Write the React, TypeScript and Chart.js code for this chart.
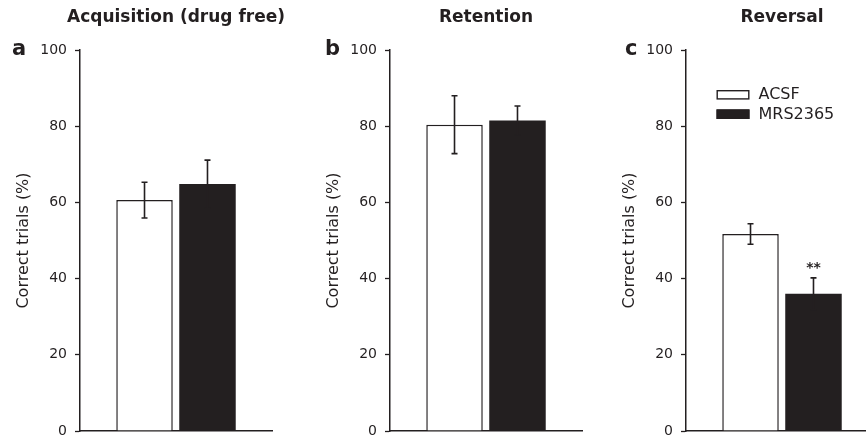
import { useEffect, useRef } from 'react';
import { Chart, registerables } from 'chart.js';

Chart.register(...registerables);

// ---- data ----
const groupLabels = ['ACSF', 'MRS2365'];
const panelTitles = ['Acquisition (drug free)', 'Retention', 'Reversal'];
const panelLetters = ['a', 'b', 'c'];
const acsfMeans = [60.6, 80.4, 51.7];
const acsfErrors = [4.7, 7.6, 2.7];
const mrsMeans = [64.8, 81.5, 36.0];
const mrsErrors = [6.3, 3.8, 4.2];
const significance = ['', '', '**'];
const yMin = 0;
const yMax = 100;
const yStep = 20;
const yAxisTitle = 'Correct trials (%)';

// ---- layout / style ----
const INK = '#231f20';
const FONT = '"DejaVu Sans", "Liberation Sans", Arial, sans-serif';
const panelAxisX = [80, 390, 686];
const letterX = [12, 15, 19];
const CANVAS_W = 290;
const CANVAS_H = 440;
const AXIS_OFFSET = 80;

function makePlugin(idx: number) {
  return {
    id: 'panelDecor' + idx,
    afterDatasetsDraw(chart: any) {
      const ctx = chart.ctx as CanvasRenderingContext2D;
      const y = chart.scales.y;
      ctx.save();
      const means = [acsfMeans[idx], mrsMeans[idx]];
      const errs = [acsfErrors[idx], mrsErrors[idx]];
      ctx.strokeStyle = INK;
      ctx.lineWidth = 1.6;
      for (let d = 0; d < 2; d++) {
        const el = chart.getDatasetMeta(d).data[0];
        const cx = el.x;
        const top = y.getPixelForValue(means[d] + errs[d]);
        const bot = y.getPixelForValue(means[d] - errs[d]);
        ctx.beginPath();
        ctx.moveTo(cx, top);
        ctx.lineTo(cx, bot);
        ctx.moveTo(cx - 3, top);
        ctx.lineTo(cx + 3, top);
        ctx.moveTo(cx - 3, bot);
        ctx.lineTo(cx + 3, bot);
        ctx.stroke();
      }
      if (significance[idx]) {
        const el = chart.getDatasetMeta(1).data[0];
        const top = y.getPixelForValue(means[1] + errs[1]);
        ctx.fillStyle = INK;
        ctx.font = 'bold 14px ' + FONT;
        ctx.textAlign = 'center';
        ctx.textBaseline = 'middle';
        ctx.fillText(significance[idx], el.x, top - 9);
      }
      ctx.restore();
    },
    afterDraw(chart: any) {
      const ctx = chart.ctx as CanvasRenderingContext2D;
      const ca = chart.chartArea;
      ctx.save();
      ctx.fillStyle = INK;
      ctx.font = 'bold 17px ' + FONT;
      ctx.textAlign = 'center';
      ctx.textBaseline = 'middle';
      ctx.fillText(panelTitles[idx], (ca.left + ca.right) / 2, 18);
      ctx.font = 'bold 21px ' + FONT;
      ctx.textAlign = 'left';
      ctx.textBaseline = 'alphabetic';
      ctx.fillText(panelLetters[idx], letterX[idx], 55);
      if (idx === 2) {
        const bx = 110.5;
        const rows = [94.8, 114.2];
        const fills = ['#ffffff', INK];
        ctx.font = '16px ' + FONT;
        ctx.textBaseline = 'middle';
        ctx.textAlign = 'left';
        for (let i = 0; i < 2; i++) {
          ctx.fillStyle = fills[i];
          ctx.fillRect(bx, rows[i] - 4.8, 33, 9.6);
          ctx.strokeStyle = INK;
          ctx.lineWidth = 1.4;
          ctx.strokeRect(bx + 0.7, rows[i] - 4.8 + 0.7, 31.6, 8.2);
          ctx.fillStyle = INK;
          ctx.fillText(groupLabels[i], bx + 42, rows[i] + 0.5);
        }
      }
      ctx.restore();
    },
  };
}

function Panel({ idx }: { idx: number }) {
  const ref = useRef<HTMLCanvasElement | null>(null);
  useEffect(() => {
    if (!ref.current) return;
    const chart = new Chart(ref.current, {
      type: 'bar',
      data: {
        labels: [''],
        datasets: [
          {
            label: groupLabels[0],
            data: [acsfMeans[idx]],
            backgroundColor: '#ffffff',
            borderColor: INK,
            borderWidth: 1.5,
            categoryPercentage: 0.656,
            barPercentage: 0.897,
          },
          {
            label: groupLabels[1],
            data: [mrsMeans[idx]],
            backgroundColor: INK,
            borderColor: INK,
            borderWidth: 0,
            categoryPercentage: 0.656,
            barPercentage: 0.897,
          },
        ],
      },
      options: {
        responsive: false,
        animation: false,
        events: [],
        layout: { padding: { top: 50, left: 0, right: CANVAS_W - AXIS_OFFSET - 192, bottom: 9 } },
        plugins: {
          legend: { display: false },
          title: { display: false },
          tooltip: { enabled: false },
        },
        scales: {
          x: {
            type: 'category',
            ticks: { display: false },
            grid: { display: false },
            border: { display: true, color: INK, width: 1.5 },
            afterFit: (s: any) => {
              s.height = 0;
              s.paddingLeft = 0;
              s.paddingRight = 0;
            },
          },
          y: {
            min: yMin,
            max: yMax,
            ticks: {
              stepSize: yStep,
              color: INK,
              padding: 8,
              font: { family: FONT, size: 14 },
            },
            grid: {
              drawOnChartArea: false,
              drawTicks: true,
              tickLength: 5,
              tickColor: INK,
              tickWidth: 1.3,
            },
            border: { display: true, color: INK, width: 1.5 },
            title: {
              display: true,
              text: yAxisTitle,
              color: INK,
              font: { family: FONT, size: 16 },
              padding: { top: 14, bottom: 0 },
            },
            afterFit: (s: any) => {
              s.width = AXIS_OFFSET;
              s.paddingTop = 0;
              s.paddingBottom = 0;
            },
          },
        },
      },
      plugins: [makePlugin(idx)],
    } as any);
    return () => chart.destroy();
  }, [idx]);
  return (
    <canvas
      ref={ref}
      width={CANVAS_W}
      height={CANVAS_H}
      style={{
        position: 'absolute',
        left: panelAxisX[idx] - AXIS_OFFSET,
        top: 0,
        width: CANVAS_W,
        height: CANVAS_H,
      }}
    />
  );
}

export default function App() {
  return (
    <div
      style={{
        position: 'fixed',
        left: 0,
        top: 0,
        width: 866,
        height: 440,
        overflow: 'hidden',
        background: '#ffffff',
      }}
    >
      {[0, 1, 2].map((i) => (
        <Panel key={i} idx={i} />
      ))}
    </div>
  );
}
